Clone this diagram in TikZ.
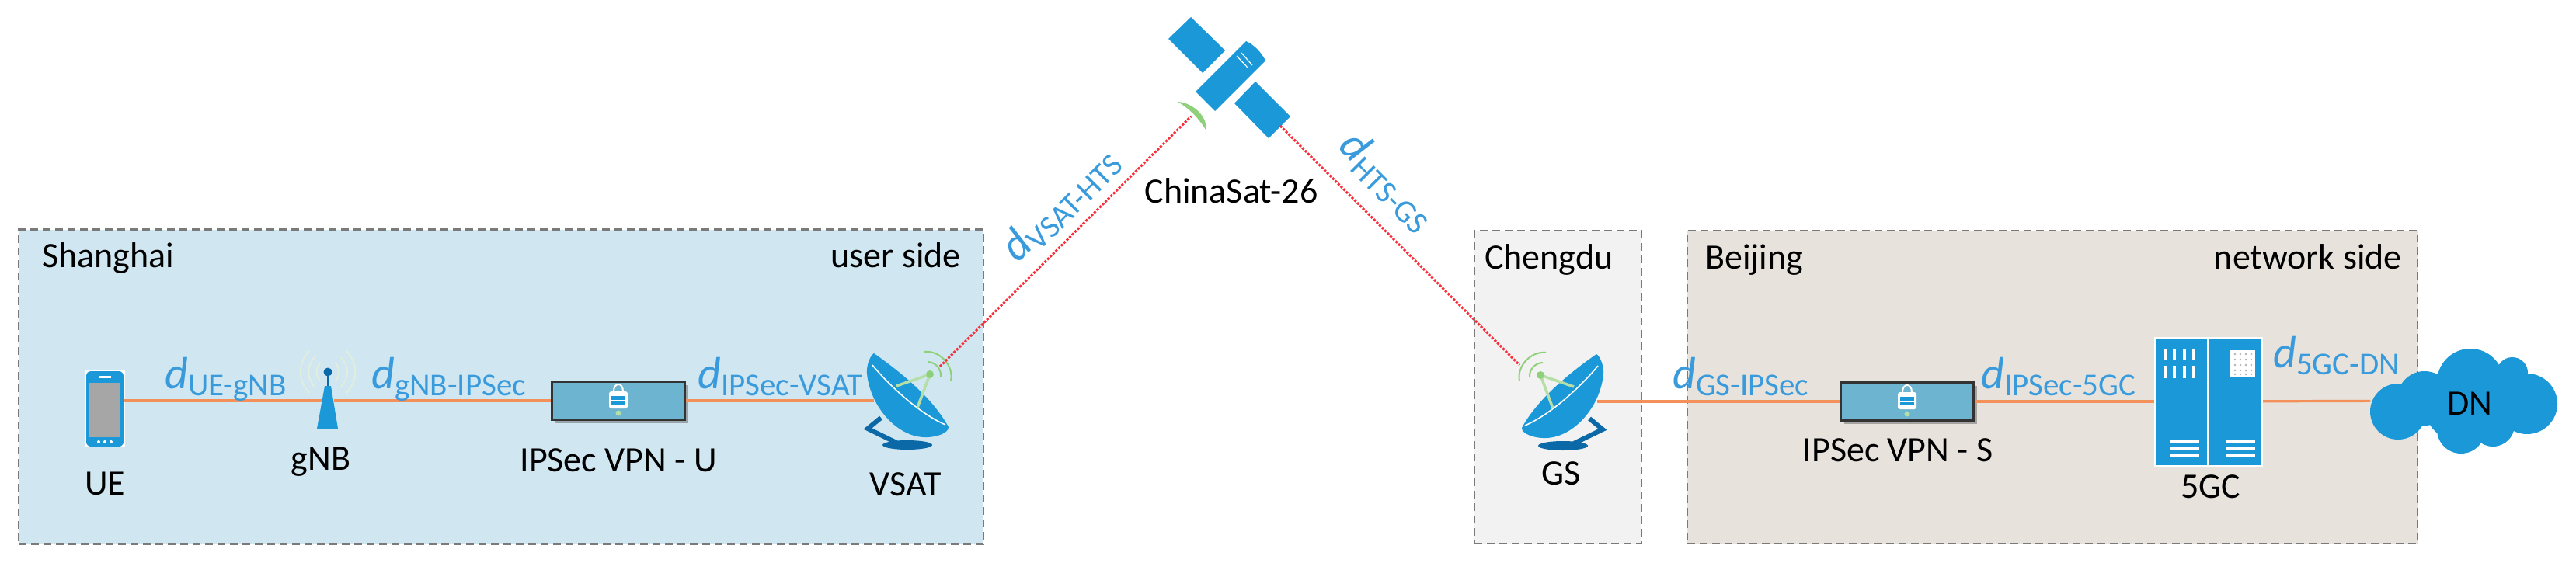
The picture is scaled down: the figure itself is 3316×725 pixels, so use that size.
\documentclass[tikz,border=0pt]{standalone}
\usepackage{fontspec}
\setmainfont{Carlito}
\usepackage{xcolor}
\usetikzlibrary{arrows.meta,positioning,shadows}
\definecolor{iconblue}{HTML}{1A98D8}
\definecolor{deepblue}{HTML}{0B69A8}
\definecolor{delaytext}{HTML}{3A9BDC}
\definecolor{feedgreen}{HTML}{B5DFA6}
\definecolor{wavegreen}{HTML}{8FD07A}
\definecolor{palewave}{HTML}{E2EEDD}
\definecolor{wirecolor}{HTML}{F4905A}
\definecolor{linkred}{HTML}{F5303A}
\definecolor{shanghaifill}{HTML}{D0E6F0}
\definecolor{chengdufill}{HTML}{F2F2F2}
\definecolor{beijingfill}{HTML}{E7E3DC}
\definecolor{vpnfill}{HTML}{6CB4CF}
\definecolor{zoneline}{HTML}{7A7A7A}
\newcommand{\delaylabel}[1]{{\fontsize{58}{60}\selectfont\itshape d}\raisebox{-9pt}{\fontsize{41}{44}\selectfont #1}}

\begin{document}
\begin{tikzpicture}[
  x=1pt, y=-1pt,
  zone/.style={rectangle, draw=zoneline, dash pattern=on 10pt off 6pt, line width=2.8pt, inner sep=0pt},
  zonetext/.style={font=\fontsize{46}{50}\selectfont, inner sep=0pt, text height=30pt, text depth=8pt},
  caption/.style={font=\fontsize{46}{50}\selectfont, inner sep=0pt, text height=30pt, text depth=8pt},
  spot/.style={rectangle, inner sep=0pt},
  vpnbox/.style={rectangle, fill=vpnfill, draw=black!80, line width=3pt, inner sep=0pt, minimum width=171pt, minimum height=49pt,
    drop shadow={shadow xshift=4pt, shadow yshift=-4pt, fill=black!60}},
  serverbox/.style={rectangle, fill=iconblue, draw=white, line width=2pt, inner sep=0pt, minimum width=138pt, minimum height=165pt},
  wire/.style={draw=wirecolor, line width=3.2pt},
  radiolink/.style={draw=linkred, line width=3pt, dotted},
  delay/.style={text=delaytext, inner sep=0pt},
  phoneicon/.pic={
    \fill[white] (-26,-50) rectangle (26,50);
    \fill[iconblue, rounded corners=6pt] (-24,-48) rectangle (24,49);
    \fill[black!35] (-20,-33) rectangle (20,37);
    \fill[white] (-8,-42) rectangle (8,-39);
    \foreach \dotx in {-8,0,8} \fill[white] (\dotx,43) circle[radius=2pt];
  },
  towericon/.pic={
    \foreach \rad in {14,24,34} {
      \draw[palewave, line width=2pt] (-.7*\rad,-37-.8*\rad) .. controls (-1.15*\rad,-37-.3*\rad) and (-1.15*\rad,-37+.3*\rad) .. (-.7*\rad,-37+.8*\rad);
      \draw[palewave, line width=2pt] (.7*\rad,-37-.8*\rad) .. controls (1.15*\rad,-37-.3*\rad) and (1.15*\rad,-37+.3*\rad) .. (.7*\rad,-37+.8*\rad);
    }
    \fill[iconblue] (-4,-19) -- (4,-19) -- (13,36) -- (-14,36) -- cycle;
    \draw[deepblue, line width=2.5pt] (0,-37) -- (0,-19);
    \fill[deepblue] (0,-37) circle[radius=5.5pt];
  },
  dishicon/.pic={
    \draw[deepblue, line width=6pt] (-36,22) -- (-53,36) -- (-16,54);
    \fill[deepblue] (-2,57) ellipse[x radius=32pt, y radius=6pt];
    \fill[iconblue] (-45,-61) .. controls (-15,-40) and (30,-5) .. (51,34) .. controls (52,42) and (30,50) .. (11,46)
      .. controls (-20,40) and (-50,5) .. (-54,-35) .. controls (-55,-45) and (-50,-58) .. (-45,-61) -- cycle;
    \draw[white, line width=1.6pt] (-47,-46) .. controls (-30,-25) and (10,15) .. (47,31);
    \draw[feedgreen, line width=3.5pt] (-16,-19) -- (27,-34) -- (11,9);
    \fill[wavegreen] (27,-34) circle[radius=5pt];
    \draw[wavegreen, line width=2pt] (20,-63) .. controls (40,-65) and (58,-45) .. (54,-26);
    \draw[wavegreen, line width=2pt] (24,-50) .. controls (33,-50) and (42,-42) .. (41,-31);
  },
  lockicon/.pic={
    \draw[white, line width=2pt] (-6,-12) .. controls (-6,-24) and (6,-24) .. (6,-12);
    \fill[white, rounded corners=3pt] (-12,-12) rectangle (12,10);
    \fill[iconblue] (-9,-6) rectangle (9,5);
    \fill[white] (-9,-1) rectangle (9,1);
    \fill[feedgreen] (0,16) circle[radius=3.5pt];
  },
  servericon/.pic={
    \draw[white, line width=2pt] (-1,-82) -- (-1,82);
    \foreach \barx in {-55,-44,-31,-19} {
      \fill[white] (\barx-2,-68) rectangle (\barx+2,-53);
      \fill[white] (\barx-2,-46) rectangle (\barx+2,-30);
    }
    \fill[white] (28,-66) rectangle (60,-31);
    \foreach \gridx in {34,41,48,55} \foreach \gridy in {-61,-54,-47,-40,-35} \fill[black!30] (\gridx,\gridy) circle[radius=1.3pt];
    \foreach \liney in {51,60,69} {
      \fill[white] (-50,\liney-1.5) rectangle (-12,\liney+1.5);
      \fill[white] (22,\liney-1.5) rectangle (60,\liney+1.5);
    }
  },
  cloudicon/.pic={
    \fill[iconblue] (-85,14) circle[radius=36pt] (-4,37) circle[radius=31pt] (8,-24) circle[radius=43pt]
      (81,4) circle[radius=39pt] (62,-36) circle[radius=20pt] (37,31) circle[radius=28pt]
      (-51,-3) circle[radius=35pt] (-2,4) circle[radius=50pt] (45,-2) circle[radius=42pt];
  },
  satelliteicon/.pic={
    \fill[iconblue] (1533,22) -- (1577,65) -- (1548,94) -- (1504,50) -- cycle;
    \fill[iconblue] (1616,105) -- (1661,150) -- (1633,178) -- (1589,133) -- cycle;
    \fill[iconblue] (1604,53) .. controls (1615,58) and (1624,68) .. (1629,78) -- (1564,143) -- (1539,118) -- cycle;
    \draw[white, line width=1.2pt] (1592,72) -- (1606,87) (1598,68) -- (1612,84);
    \fill[wavegreen] (1516,131) .. controls (1535,132) and (1555,150) .. (1552,167) .. controls (1545,155) and (1532,140) .. (1516,131) -- cycle;
  }
]
\useasboundingbox (0,0) rectangle (3316,725);
\node[zone, fill=shanghaifill, minimum width=1242pt, minimum height=405pt] (shanghai) at (645,498) {};
\node[zone, fill=chengdufill, minimum width=215pt, minimum height=403pt] (chengdu) at (2005.5,498.5) {};
\node[zone, fill=beijingfill, minimum width=940pt, minimum height=403pt] (beijing) at (2642,498.5) {};
\node[zonetext, anchor=west] (shanghaitext) at (54,333) {Shanghai};
\node[zonetext, anchor=east] (userside) at (1237,333) {user side};
\node[zonetext, anchor=west] (chengdutext) at (1911,335) {Chengdu};
\node[zonetext, anchor=west] (beijingtext) at (2195,335) {Beijing};
\node[zonetext, anchor=east] (networkside) at (3092,335) {network side};

\pic at (0,0) {satelliteicon};
\coordinate (satfeed) at (1533,150);
\coordinate (satpanel) at (1648,162);
\coordinate (vsatfeed) at (1210,472);
\coordinate (gsfeed) at (1956,470);
\node[caption] (chinasat) at (1585,250) {ChinaSat-26};

\node[spot, minimum width=48pt, minimum height=97pt] (ue) at (135,526) {};
\pic at (ue) {phoneicon};
\node[spot, minimum width=16pt, minimum height=72pt] (gnb) at (422,516) {};
\pic at (gnb) {towericon};
\node[vpnbox] (vpnu) at (796,516) {};
\pic at (vpnu) {lockicon};
\node[spot, minimum width=90pt, minimum height=125pt] (vsat) at (1170,516) {};
\pic at (vsat) {dishicon};
\node[spot, minimum width=92pt, minimum height=125pt] (gs) at (2010,517) {};
\pic[xscale=-1] at (gs) {dishicon};
\node[vpnbox] (vpns) at (2455,517) {};
\pic at (vpns) {lockicon};
\node[serverbox] (core) at (2843,517) {};
\pic at (core) {servericon};
\pic at (3172,516) {cloudicon};
\node[spot, minimum width=241pt, minimum height=136pt] (dn) at (3172,516) {};

\node[caption, below=33pt of ue] (uetext) {UE};
\node[caption, below=23pt of gnb, xshift=-9pt] (gnbtext) {gNB};
\node[caption, below=35pt of vpnu] (vpnutext) {IPSec VPN - U};
\node[caption, below=30pt of vsat, xshift=-4pt] (vsattext) {VSAT};
\node[caption, below=15pt of gs] (gstext) {GS};
\node[caption, below=21pt of vpns, xshift=-12pt] (vpnstext) {IPSec VPN - S};
\node[caption, below=11pt of core, xshift=3pt] (coretext) {5GC};
\node[caption] (dntext) at (3179,523) {DN};

\draw[wire] (ue.east |- gnb) -- (gnb);
\draw[wire] (gnb) -- (vpnu);
\draw[wire] (vpnu) -- (vsat);
\draw[wire] (gs) -- (vpns);
\draw[wire] (vpns) -- (core);
\draw[wire] (core) -- (dn);
\draw[radiolink] (vsatfeed) -- (satfeed);
\draw[radiolink] (satpanel) -- (gsfeed);

\node[delay, anchor=base west] (duegnb) at (212,500) {\delaylabel{UE-gNB}};
\node[delay, anchor=base west] (dgnbvpn) at (478,500) {\delaylabel{gNB-IPSec}};
\node[delay, anchor=base west] (dvpnvsat) at (898,500) {\delaylabel{IPSec-VSAT}};
\node[delay, anchor=base west] (dgsvpn) at (2153,500) {\delaylabel{GS-IPSec}};
\node[delay, anchor=base west] (dvpncore) at (2550,500) {\delaylabel{IPSec-5GC}};
\node[delay, anchor=base west] (dcoredn) at (2926,473) {\delaylabel{5GC-DN}};
\node[delay, rotate=45] (dvsathts) at (1365,263) {\delaylabel{VSAT-HTS}};
\node[delay, rotate=-45] (dhtsgs) at (1786,233) {\delaylabel{HTS-GS}};
\end{tikzpicture}
\end{document}
